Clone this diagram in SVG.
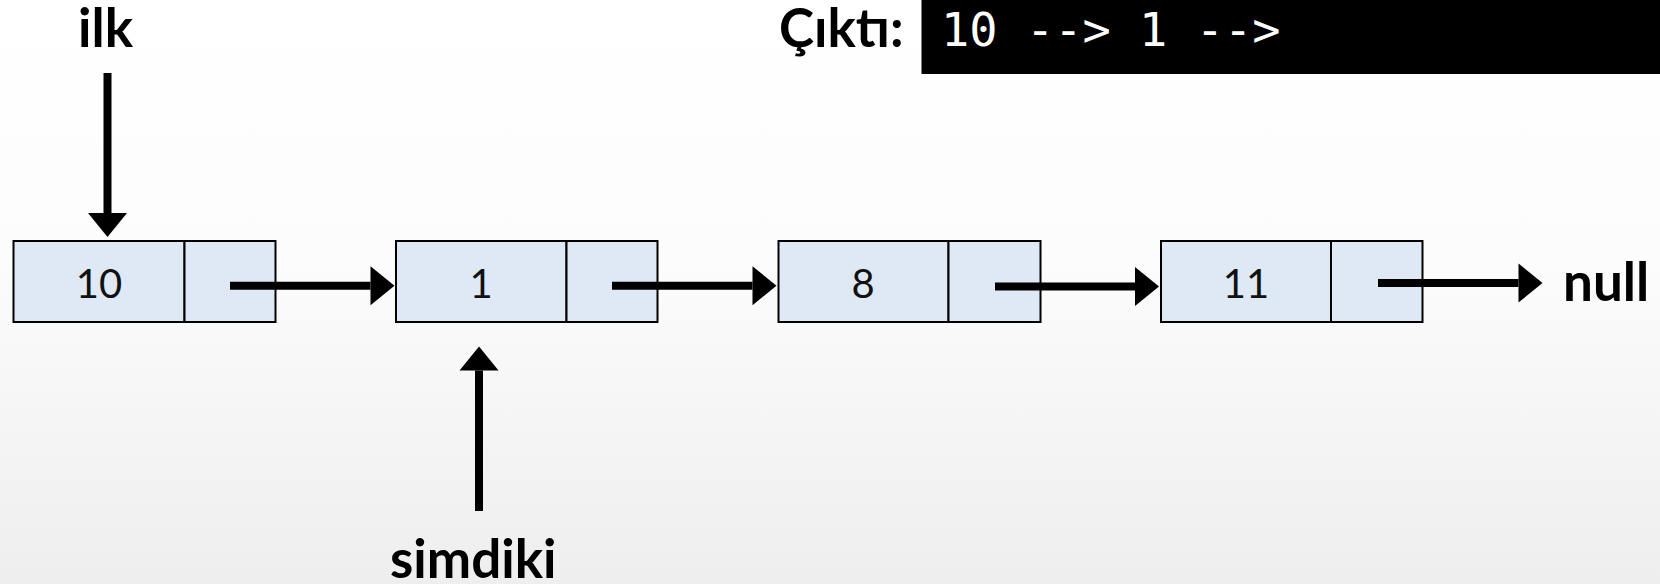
<svg xmlns="http://www.w3.org/2000/svg" width="1660" height="584" viewBox="0 0 1660 584">
<defs>
<linearGradient id="bg" x1="0" y1="0" x2="0" y2="1">
<stop offset="0" stop-color="#ffffff"/>
<stop offset="0.45" stop-color="#fcfcfc"/>
<stop offset="1" stop-color="#eeeeee"/>
</linearGradient>
<marker id="ah" markerUnits="userSpaceOnUse" markerWidth="26" markerHeight="40" refX="0" refY="19.5" orient="auto" overflow="visible">
<path d="M0,0 L24,19.5 L0,39 Z" fill="#000"/>
</marker>
<style>
.cell{fill:#dee9f5;stroke:#000;stroke-width:2}
.num{font-family:Lato,"Open Sans",sans-serif;font-size:40px;fill:#111;text-anchor:middle}
.lbl{font-family:Lato,"Open Sans",sans-serif;font-weight:bold;font-size:53px;fill:#000}
.out{font-family:"DejaVu Sans Mono","Liberation Mono",monospace;font-size:47px;fill:#fff;white-space:pre}
.conn line{stroke:#000;stroke-width:8;marker-end:url(#ah)}
</style>
</defs>
<rect x="0" y="0" width="1660" height="584" fill="url(#bg)"/>
<g id="output">
<text class="lbl" x="779" y="46.7">Çıktı:</text>
<rect x="921.5" y="0" width="738.5" height="74" fill="#000"/>
<text class="out" x="941" y="46">10 --&gt; 1 --&gt;</text>
</g>
<g id="label-ilk"><text class="lbl" x="78" y="46.7">ilk</text></g>
<g id="label-simdiki"><text class="lbl" x="390" y="578" font-size="55">simdiki</text></g>
<g id="label-null"><text class="lbl" x="1563" y="301" font-size="56">null</text></g>
<g id="node-10">
<rect class="cell" x="13.5" y="241" width="171" height="81"/>
<rect class="cell" x="184.5" y="241" width="91" height="81"/>
<text class="num" x="99" y="297.5">10</text>
</g>
<g id="node-1">
<rect class="cell" x="396" y="241" width="170.5" height="81"/>
<rect class="cell" x="566.5" y="241" width="91" height="81"/>
<text class="num" x="481" y="297.5">1</text>
</g>
<g id="node-8">
<rect class="cell" x="778.5" y="241" width="170" height="81"/>
<rect class="cell" x="948.5" y="241" width="92" height="81"/>
<text class="num" x="863" y="297.5">8</text>
</g>
<g id="node-11">
<rect class="cell" x="1161" y="241" width="170" height="81"/>
<rect class="cell" x="1331" y="241" width="91.5" height="81"/>
<text class="num" x="1246" y="297.5">11</text>
</g>
<g id="connectors" class="conn">
<line x1="107.5" y1="73" x2="107.5" y2="213"/>
<line x1="479" y1="511" x2="479" y2="370.5"/>
<line x1="230" y1="285.7" x2="370.5" y2="285.7"/>
<line x1="612" y1="285.7" x2="752.5" y2="285.7"/>
<line x1="995" y1="286.5" x2="1135" y2="286.5"/>
<line x1="1378" y1="283" x2="1518.5" y2="283"/>
</g>
</svg>
